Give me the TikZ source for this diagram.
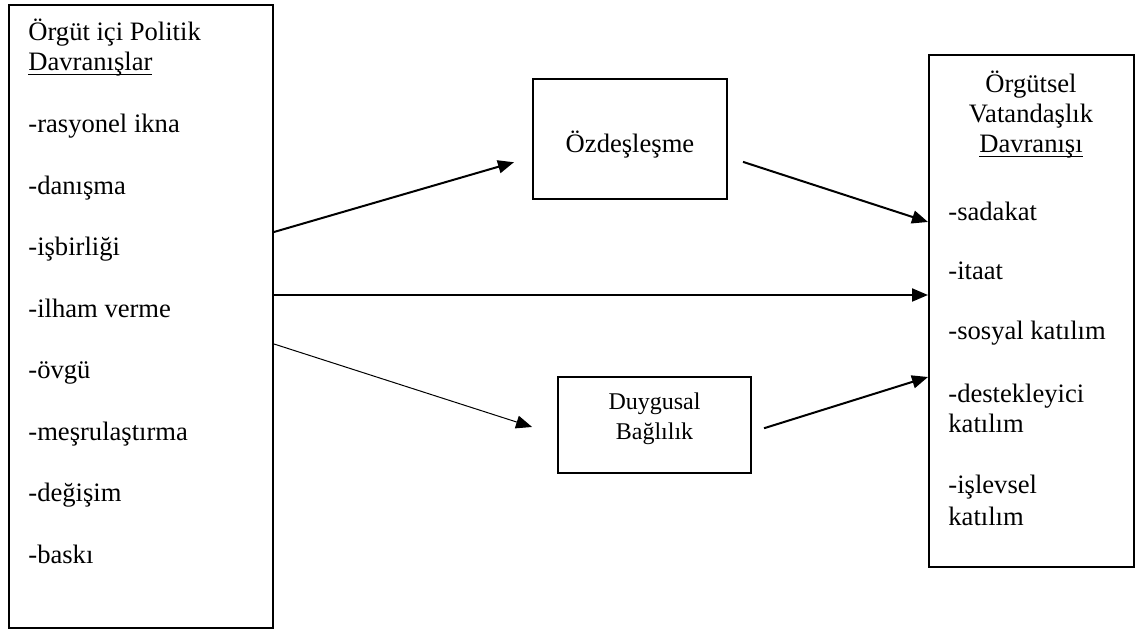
\documentclass[tikz,border=0pt]{standalone}
\usepackage{fontspec}
\setmainfont{Liberation Serif}
\usetikzlibrary{arrows.meta}
\newcommand{\myul}[1]{{\setbox0\hbox{#1}\rlap{\rule[-2.2pt]{\wd0}{0.75pt}}\box0}}
\begin{document}
\begin{tikzpicture}[x=0.5pt,y=-0.5pt,
  box/.style={draw,line width=1pt,inner sep=0pt},
  txt/.style={inner sep=0pt,font=\fontsize{13.3}{16}\selectfont},
  ltxt/.style={txt,anchor=base west},
  ctxt/.style={txt,anchor=base},
  stxt/.style={inner sep=0pt,anchor=base,font=\fontsize{12}{14}\selectfont},
  arr/.style={line width=1pt,-{Triangle[length=8pt,width=6.5pt]}},
  thinarr/.style={line width=0.5pt,-{Triangle[length=8pt,width=6.5pt]}}]
\useasboundingbox (0,0) rectangle (1141,630);
% boxes
\node[box,minimum width=132pt,minimum height=311.5pt] (L) at (141,316.5) {};
\node[box,minimum width=102.5pt,minimum height=256pt] (R) at (1031.5,311) {};
\node[box,minimum width=97pt,minimum height=60pt] (Oz) at (630,139) {};
\node[box,minimum width=96.5pt,minimum height=48pt] (Dg) at (654.5,425) {};
% left texts
\node[ltxt] (lh1) at (28,41) {Örgüt içi Politik};
\node[ltxt] (lh2) at (28,71) {\myul{Davranışlar}};
\foreach \t [count=\i from 0] in {-rasyonel ikna,-danışma,-işbirliği,-ilham verme,-övgü,-meşrulaştırma,-değişim,-baskı}
  \node[ltxt] (li\i) at (28,{133+61.5*\i}) {\t};
% right texts
\node[ctxt] (rh1) at (1031,93) {Örgütsel};
\node[ctxt] (rh2) at (1031,123) {Vatandaşlık};
\node[ctxt] (rh3) at (1031,153) {\myul{Davranışı}};
\node[ltxt] (ri1) at (948,221) {-sadakat};
\node[ltxt] (ri2) at (948,280) {-itaat};
\node[ltxt] (ri3) at (948,340) {-sosyal katılım};
\node[ltxt] (ri4) at (948,403) {-destekleyici};
\node[ltxt] (ri5) at (948,433) {katılım};
\node[ltxt] (ri6) at (948,494) {-işlevsel};
\node[ltxt] (ri7) at (948,525) {katılım};
% middle texts
\node[ctxt] (ozt) at (630,153) {Özdeşleşme};
\node[stxt] (dg1) at (654.5,410) {Duygusal};
\node[stxt] (dg2) at (654.5,440) {Bağlılık};
% arrows
\draw[arr,shorten >=9.4pt] (L.east |- 0,232) -- (Oz.west |- 0,157);
\draw[arr,shorten <=7.9pt] (Oz.east |- 0,157) -- (R.west |- 0,222);
\draw[arr] (L.east |- 0,295) -- (R.west |- 0,295);
\draw[thinarr,shorten >=13.1pt] (L.east |- 0,344) -- (Dg.west |- 0,435);
\draw[arr,shorten <=6.3pt] (Dg.east |- 0,432) -- (R.west |- 0,377);
\end{tikzpicture}
\end{document}
